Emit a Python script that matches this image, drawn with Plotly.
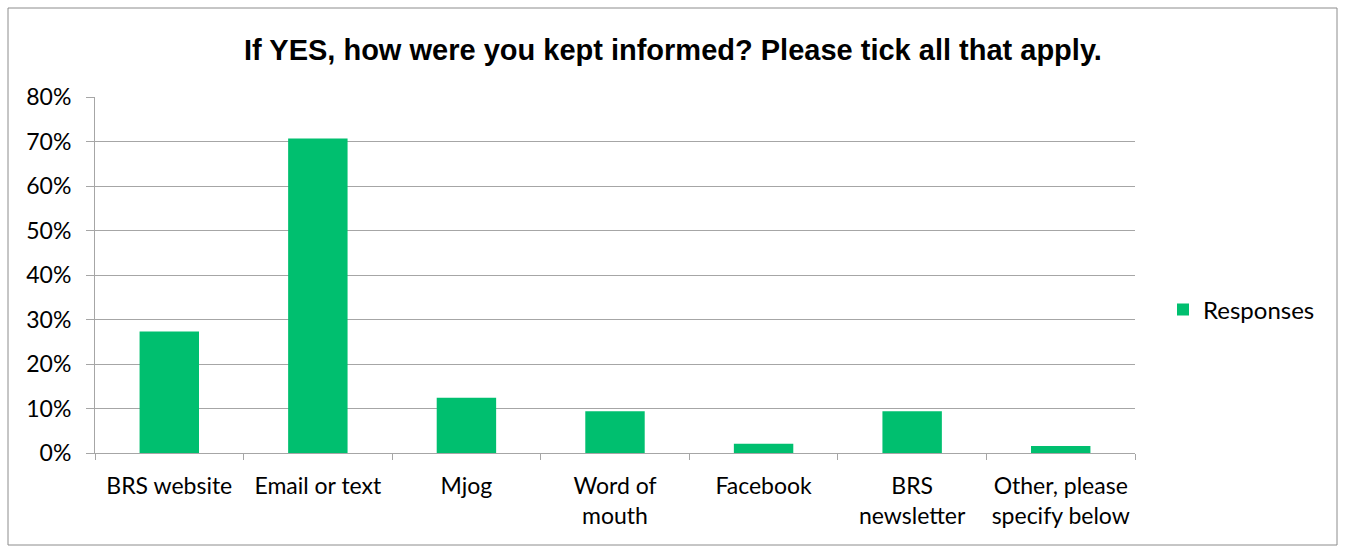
import plotly.graph_objects as go

categories = ["BRS website", "Email or text", "Mjog", "Word of<br>mouth", "Facebook",
              "BRS<br>newsletter", "Other, please<br>specify below"]
responses = [0.273, 0.707, 0.124, 0.094, 0.021, 0.094, 0.016]
series_name = "Responses"
title_text = "If YES, how were you kept informed? Please tick all that apply."

W, H = 1346, 546
L, R, T, B = 95, 211, 97, 93
pw, ph = W - L - R, H - T - B

fig = go.Figure()
fig.add_trace(go.Bar(x=categories, y=responses, name=series_name,
                     marker=dict(color="#00BF6F", line=dict(width=0)),
                     showlegend=True))

grid = "#a6a6a6"
fig.update_layout(
    width=W, height=H,
    margin=dict(l=L, r=R, t=T, b=B),
    paper_bgcolor="white", plot_bgcolor="white",
    font=dict(family="Lato, 'Open Sans', sans-serif", size=23, color="#000000"),
    title=dict(text="<b>" + title_text + "</b>", x=0.5, xanchor="center", xref="container",
               y=1 - 50 / H, yanchor="middle", yref="container",
               font=dict(family="'Liberation Sans', Arial, sans-serif", size=29, color="#000000")),
    bargap=0.6,
    xaxis=dict(showline=True, linecolor=grid, linewidth=1, ticks="outside", tickson="boundaries",
               ticklen=6, tickcolor=grid, showgrid=False, tickfont=dict(size=23),
               ticklabelstandoff=12),
    yaxis=dict(range=[0, 0.8], dtick=0.1, tickformat=".0%", showgrid=True, gridcolor=grid,
               gridwidth=1, showline=True, linecolor=grid, ticks="outside", ticklen=8,
               tickcolor=grid, zeroline=False, tickfont=dict(size=23), ticklabelstandoff=10),
    legend=dict(x=(1163 - L) / pw, y=0.5 + (453 - 310 - ph / 2) / ph, xanchor="left", yanchor="middle",
                font=dict(size=24), itemwidth=30, bgcolor="rgba(0,0,0,0)"),
    shapes=[dict(type="rect", xref="paper", yref="paper",
                 x0=(8 - L) / pw, x1=(1337 - L) / pw,
                 y0=(H - B - 545) / ph, y1=(H - B - 8) / ph,
                 line=dict(color="#8c8c8c", width=1), fillcolor="rgba(0,0,0,0)", layer="below")],
)

fig.write_html("out.html")
